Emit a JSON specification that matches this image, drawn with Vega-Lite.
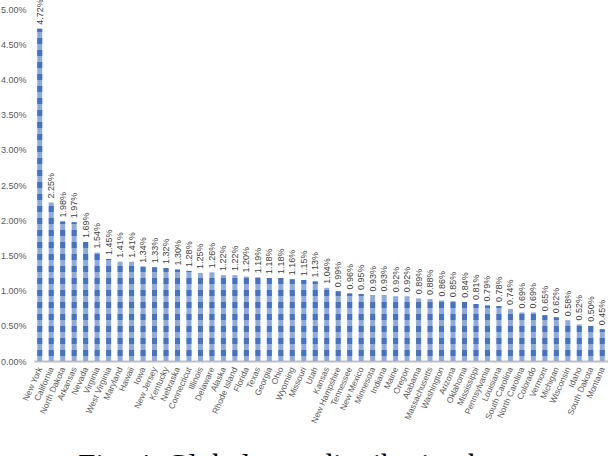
{
  "$schema": "https://vega.github.io/schema/vega-lite/v6.json",
  "width": 574,
  "height": 352,
  "autosize": {"type": "none"},
  "padding": {"left": 34, "top": 9, "right": 0, "bottom": 95},
  "background": "white",
  "config": {"view": {"stroke": null}},
  "title": {
    "text": "Fig. 4. Global user distribution by state",
    "orient": "bottom",
    "anchor": "middle",
    "font": "Liberation Serif",
    "fontSize": 31,
    "fontWeight": "normal",
    "color": "black",
    "offset": 28
  },
  "data": {
    "values": [
      {"state": "New York", "share": 0.0472},
      {"state": "California", "share": 0.0225},
      {"state": "North Dakota", "share": 0.0198},
      {"state": "Arkansas", "share": 0.0197},
      {"state": "Nevada", "share": 0.0169},
      {"state": "Virginia", "share": 0.0154},
      {"state": "West Virginia", "share": 0.0145},
      {"state": "Maryland", "share": 0.0141},
      {"state": "Hawaii", "share": 0.0141},
      {"state": "Iowa", "share": 0.0134},
      {"state": "New Jersey", "share": 0.0133},
      {"state": "Kentucky", "share": 0.0132},
      {"state": "Nebraska", "share": 0.0130},
      {"state": "Connecticut", "share": 0.0128},
      {"state": "Illinois", "share": 0.0125},
      {"state": "Delaware", "share": 0.0126},
      {"state": "Alaska", "share": 0.0122},
      {"state": "Rhode Island", "share": 0.0122},
      {"state": "Florida", "share": 0.0120},
      {"state": "Texas", "share": 0.0119},
      {"state": "Georgia", "share": 0.0118},
      {"state": "Ohio", "share": 0.0118},
      {"state": "Wyoming", "share": 0.0116},
      {"state": "Missouri", "share": 0.0115},
      {"state": "Utah", "share": 0.0113},
      {"state": "Kansas", "share": 0.0104},
      {"state": "New Hampshire", "share": 0.0099},
      {"state": "Tennessee", "share": 0.0096},
      {"state": "New Mexico", "share": 0.0095},
      {"state": "Minnesota", "share": 0.0093},
      {"state": "Indiana", "share": 0.0093},
      {"state": "Maine", "share": 0.0092},
      {"state": "Oregon", "share": 0.0092},
      {"state": "Alabama", "share": 0.0089},
      {"state": "Massachusetts", "share": 0.0088},
      {"state": "Washington", "share": 0.0086},
      {"state": "Arizona", "share": 0.0085},
      {"state": "Oklahoma", "share": 0.0084},
      {"state": "Mississippi", "share": 0.0081},
      {"state": "Pennsylvania", "share": 0.0079},
      {"state": "Louisiana", "share": 0.0078},
      {"state": "South Carolina", "share": 0.0074},
      {"state": "North Carolina", "share": 0.0069},
      {"state": "Colorado", "share": 0.0069},
      {"state": "Vermont", "share": 0.0065},
      {"state": "Michigan", "share": 0.0062},
      {"state": "Wisconsin", "share": 0.0058},
      {"state": "Idaho", "share": 0.0052},
      {"state": "South Dakota", "share": 0.0050},
      {"state": "Montana", "share": 0.0045}
    ]
  },
  "encoding": {
    "x": {
      "field": "state",
      "type": "nominal",
      "sort": null,
      "scale": {"paddingInner": 0.565, "paddingOuter": 0.2825},
      "axis": {
        "title": null,
        "labelAngle": -66,
        "labelFont": "Liberation Sans",
        "labelFontSize": 8.5,
        "labelColor": "#595959",
        "ticks": false,
        "domainColor": "#BFBFBF",
        "domainWidth": 2,
        "labelPadding": 6,
        "labelLimit": 0,
        "labelOverlap": false
      }
    },
    "y": {
      "field": "share",
      "type": "quantitative",
      "stack": null,
      "scale": {"domain": [0, 0.05], "nice": false},
      "axis": {
        "title": null,
        "format": ".2%",
        "values": [0, 0.005, 0.01, 0.015, 0.02, 0.025, 0.03, 0.035, 0.04, 0.045, 0.05],
        "domain": false,
        "ticks": false,
        "grid": false,
        "labelFont": "Liberation Sans",
        "labelFontSize": 9,
        "labelColor": "#595959",
        "labelPadding": 8,
        "labelOverlap": false
      }
    }
  },
  "layer": [
    {
      "mark": {"type": "bar", "color": "#8FAADC"}
    },
    {
      "mark": {
        "type": "rule",
        "color": "#4472C4",
        "strokeWidth": 5,
        "strokeDash": [6, 6],
        "strokeDashOffset": {"expr": "11 - (scale('y', 0) - scale('y', datum.share))"}
      },
      "encoding": {
        "y2": {"datum": 0}
      }
    },
    {
      "mark": {"type": "text", "angle": 270, "align": "left", "baseline": "middle", "dx": 4, "font": "Liberation Sans", "fontSize": 9, "color": "#404040"},
      "encoding": {
        "text": {"field": "share", "type": "quantitative", "format": ".2%"}
      }
    }
  ]
}
